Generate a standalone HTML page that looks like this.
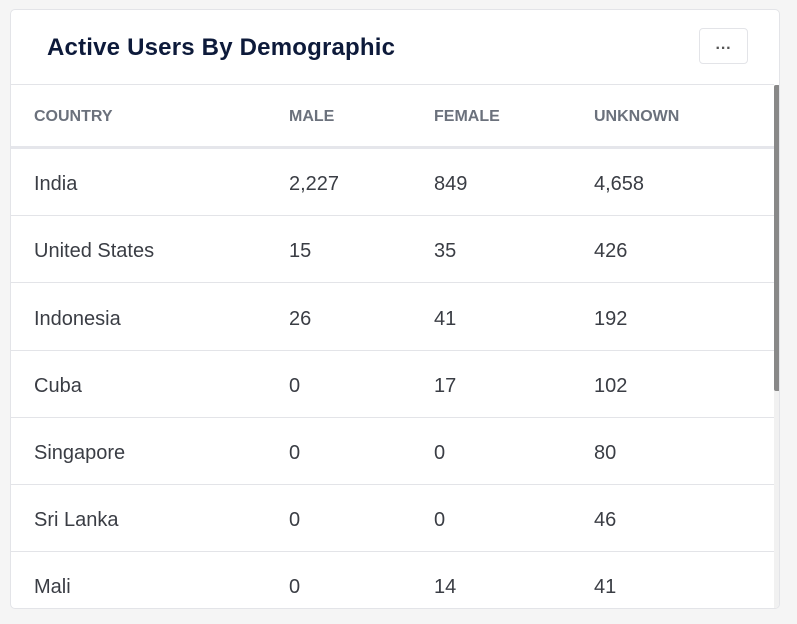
<!DOCTYPE html>
<html><head><style>
body{margin:0;width:797px;height:624px;background:#f5f5f5;font-family:"Liberation Sans",sans-serif;position:relative;overflow:hidden}
.card{position:absolute;left:10px;top:9px;width:768px;height:598px;background:#fff;border:1px solid #e3e4e8;border-radius:5px;overflow:hidden}
.title{position:absolute;left:36px;top:24px;font-size:24px;font-weight:bold;color:#0d1a3a;letter-spacing:0.2px}
.btn{position:absolute;left:688px;top:18px;width:49px;height:36px;border:1px solid #e3e4e8;border-radius:4px;box-sizing:border-box;text-align:center;line-height:40px;color:#555;font-size:16px;font-weight:bold}
.hdr{position:absolute;left:0;top:74px;width:763px;height:1px;background:#e3e4e8}
.th{position:absolute;top:98px;font-size:16px;font-weight:bold;color:#6b717c}
.thick{position:absolute;left:0;top:136px;width:763px;height:3px;background:#e5e6eb}
.row{position:absolute;left:0;width:763px;height:67px;border-bottom:1px solid #e3e4e8;box-sizing:border-box}
.row span{position:absolute;top:24px;font-size:20px;color:#3a3d44}
.sb{position:absolute;left:763px;top:75px;width:6px;height:530px;background:#f1f1f1}
.thumb{position:absolute;left:763px;top:75px;width:6px;height:306px;background:#888;border-radius:2px}
</style></head><body>
<div class="card">
<div class="title">Active Users By Demographic</div>
<div class="btn">···</div>
<div class="hdr"></div>
<div class="th" style="left:23px">COUNTRY</div>
<div class="th" style="left:278px">MALE</div>
<div class="th" style="left:423px">FEMALE</div>
<div class="th" style="left:583px">UNKNOWN</div>
<div class="thick"></div>
<div class="row" style="top:139px"><span style="left:23px">India</span><span style="left:278px">2,227</span><span style="left:423px">849</span><span style="left:583px">4,658</span></div>
<div class="row" style="top:206px"><span style="left:23px">United States</span><span style="left:278px">15</span><span style="left:423px">35</span><span style="left:583px">426</span></div>
<div class="row" style="top:274px"><span style="left:23px">Indonesia</span><span style="left:278px">26</span><span style="left:423px">41</span><span style="left:583px">192</span></div>
<div class="row" style="top:341px"><span style="left:23px">Cuba</span><span style="left:278px">0</span><span style="left:423px">17</span><span style="left:583px">102</span></div>
<div class="row" style="top:408px"><span style="left:23px">Singapore</span><span style="left:278px">0</span><span style="left:423px">0</span><span style="left:583px">80</span></div>
<div class="row" style="top:475px"><span style="left:23px">Sri Lanka</span><span style="left:278px">0</span><span style="left:423px">0</span><span style="left:583px">46</span></div>
<div class="row" style="top:542px;border-bottom:none"><span style="left:23px">Mali</span><span style="left:278px">0</span><span style="left:423px">14</span><span style="left:583px">41</span></div>
<div class="sb"></div><div class="thumb"></div>
</div>
</body></html>
